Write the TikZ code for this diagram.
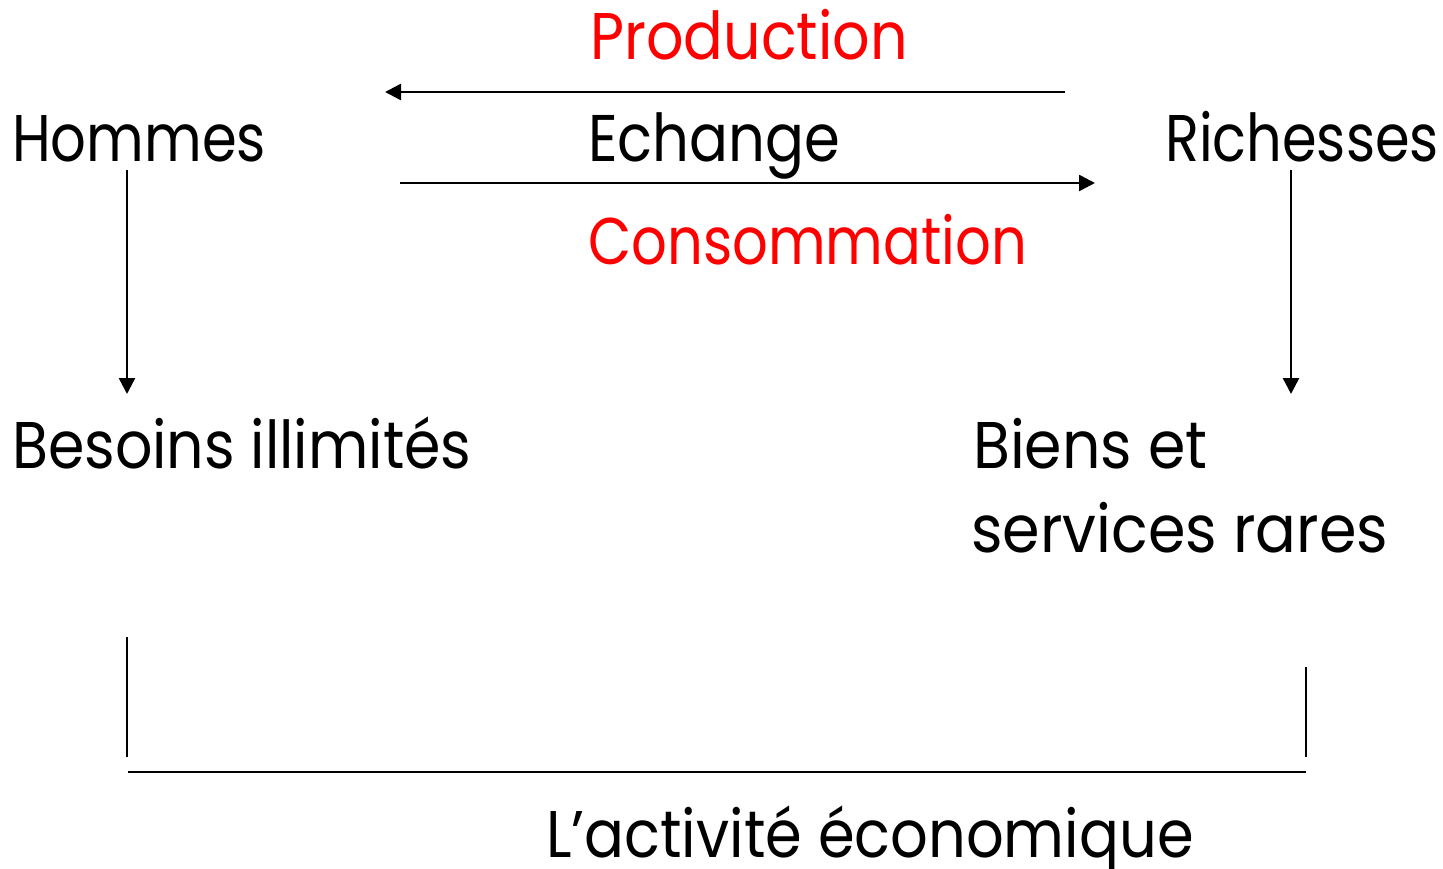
\documentclass[tikz,border=0pt]{standalone}
\usepackage{fontspec}
\setmainfont{Poppins}
\usetikzlibrary{arrows.meta}
\definecolor{myred}{RGB}{255,0,0}
\tikzset{
  lbl/.style={anchor=base west, inner sep=0pt, font=\fontsize{66}{78}\selectfont, transform shape, xscale=#1},
  lbl/.default=0.87,
  redlbl/.style={lbl=#1, text=myred},
  redlbl/.default=0.87,
  conn/.style={line width=2.5pt, -{Triangle[length=16pt,width=16pt]}},
  plain/.style={line width=2.5pt},
}
\begin{document}
\begin{tikzpicture}[x=1pt,y=-1pt]
\useasboundingbox (0,0) rectangle (1443,869);
\node[redlbl=0.890] (prod) at (590,60) {Production};
\node[lbl=0.848] (hom) at (12,162) {Hommes};
\node[lbl=0.873] (ech) at (588,162) {Echange};
\node[lbl=0.845] (ric) at (1165,162) {Richesses};
\node[redlbl=0.848] (cons) at (588,265) {Consommation};
\node[lbl=0.888] (bes) at (12,468) {Besoins illimités};
\node[lbl=0.912] (bie) at (973,468) {Biens et};
\node[lbl=0.915] (ser) at (971,552) {services rares};
\node[lbl=0.895] (act) at (546,857) {L’activité économique};
\coordinate (a1s) at (1065,92);
\coordinate (a1e) at (385,92);
\coordinate (a2s) at (400,183);
\coordinate (a2e) at (1095,183);
\coordinate (l1s) at (127,170);
\coordinate (l1e) at (127,394);
\coordinate (r1s) at (1291,170);
\coordinate (r1e) at (1291,394);
\coordinate (bl1) at (127,637);
\coordinate (bl2) at (127,757);
\coordinate (br1) at (1306,667);
\coordinate (br2) at (1306,757);
\coordinate (hl) at (128,772);
\coordinate (hr) at (1306,772);
\draw[conn] (a1s) -- (a1e);
\draw[conn] (a2s) -- (a2e);
\draw[conn] (l1s) -- (l1e);
\draw[conn] (r1s) -- (r1e);
\draw[plain] (bl1) -- (bl2);
\draw[plain] (br1) -- (br2);
\draw[plain] (hl) -- (hr);
\end{tikzpicture}
\end{document}
